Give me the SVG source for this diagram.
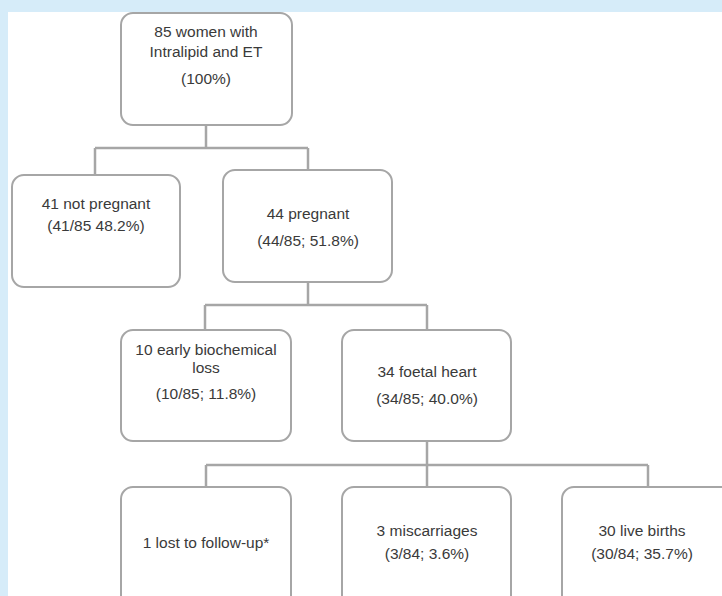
<svg xmlns="http://www.w3.org/2000/svg" width="722" height="596" viewBox="0 0 722 596">
<style>
.box{fill:#fff;stroke:#a6a6a6;stroke-width:2}
.t{font-family:"Liberation Sans",Arial,sans-serif;font-size:15.5px;fill:#3a3a3a;text-anchor:middle}
.c{fill:none;stroke:#a6a6a6;stroke-width:2.5}
</style>
<rect x="0" y="0" width="722" height="596" fill="#d6ecf9"/>
<rect x="8" y="12" width="714" height="584" fill="#fff"/>
<g id="connectors">
<path class="c" d="M206 125V148M95 148H308M95 148V175M308 148V170"/>
<path class="c" d="M308 282V305M205 305H427M205 305V330M427 305V330"/>
<path class="c" d="M427 441V465M206 465H648M206 465V487M427 465V487M648 465V487"/>
</g>
<g id="n1"><rect class="box" x="121" y="13" width="171" height="112" rx="12"/>
<text class="t" x="206" y="37">85 women with</text><text class="t" x="206" y="57">Intralipid and ET</text><text class="t" x="206" y="84">(100%)</text></g>
<g id="n2"><rect class="box" x="12" y="175" width="168" height="112" rx="12"/>
<text class="t" x="96" y="209">41 not pregnant</text><text class="t" x="96" y="231">(41/85 48.2%)</text></g>
<g id="n3"><rect class="box" x="223" y="170" width="169" height="112" rx="12"/>
<text class="t" x="308" y="219">44 pregnant</text><text class="t" x="308" y="246">(44/85; 51.8%)</text></g>
<g id="n4"><rect class="box" x="121" y="330" width="170" height="111" rx="12"/>
<text class="t" x="206" y="355">10 early biochemical</text><text class="t" x="206" y="373">loss</text><text class="t" x="206" y="399">(10/85; 11.8%)</text></g>
<g id="n5"><rect class="box" x="342" y="330" width="169" height="111" rx="12"/>
<text class="t" x="427" y="377">34 foetal heart</text><text class="t" x="427" y="404">(34/85; 40.0%)</text></g>
<g id="n6"><rect class="box" x="121" y="487" width="170" height="125" rx="12"/>
<text class="t" x="206" y="548">1 lost to follow-up*</text></g>
<g id="n7"><rect class="box" x="342" y="487" width="169" height="125" rx="12"/>
<text class="t" x="427" y="536">3 miscarriages</text><text class="t" x="427" y="559">(3/84; 3.6%)</text></g>
<g id="n8"><rect class="box" x="562" y="487" width="175" height="125" rx="12"/>
<text class="t" x="642" y="536">30 live births</text><text class="t" x="642" y="559">(30/84; 35.7%)</text></g>
</svg>
